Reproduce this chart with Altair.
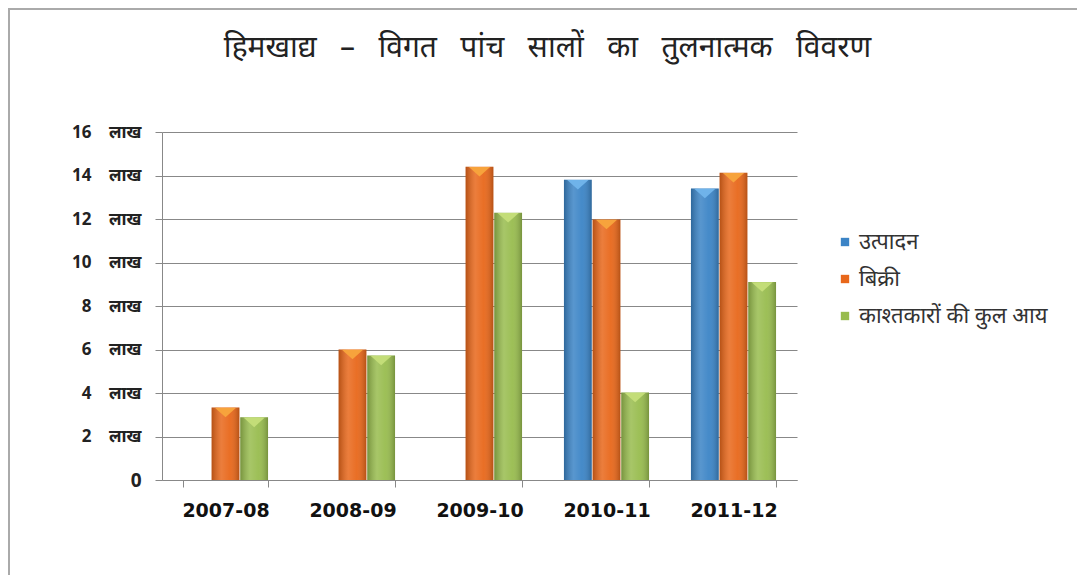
import altair as alt
import pandas as pd

years = ["2007-08", "2008-09", "2009-10", "2010-11", "2011-12"]
series = ["उत्पादन", "बिक्री", "काश्तकारों की कुल आय"]
production = [None, None, None, 13.8, 13.4]
sales = [3.33, 6.0, 14.4, 11.98, 14.13]
income = [2.88, 5.72, 12.29, 4.02, 9.1]
colors = ["#3b84c6", "#e8671a", "#98bc4e"]
caps = ["#6fb3ea", "#f7a33c", "#c3dd78"]
title_words = ["हिमखाद्य", "–", "विगत", "पांच", "सालों", "का", "तुलनात्मक", "विवरण"]

rows = []
for s, vals, cap in zip(series, [production, sales, income], caps):
    for y, v in zip(years, vals):
        rows.append({"year": y, "series": s, "value": v, "cap": cap})
df = pd.DataFrame(rows)

font = "Noto Sans"
nb = "\u00a0"

x = alt.X("year:N", sort=years, title=None,
          scale=alt.Scale(paddingInner=0.33, paddingOuter=0.165),
          axis=alt.Axis(labelFontSize=19, labelFontWeight="bold", labelColor="#111",
                        labelPadding=14, tickBand="extent", tickSize=7,
                        domainColor="#888", tickColor="#888", labelAngle=0,
                        labelFont="DejaVu Sans"))
xo = alt.XOffset("series:N", sort=series, scale=alt.Scale(domain=series, paddingInner=0.03))
y = alt.Y("value:Q", title=None,
          scale=alt.Scale(domain=[0, 16], nice=False),
          axis=alt.Axis(values=list(range(0, 17, 2)),
                        labelExpr="datum.value == 0 ? '0' : datum.value + '" + nb * 4 + "लाख'",
                        labelFontSize={"condition": {"test": "datum.value == 0", "value": 19}, "value": 17},
                        labelFontWeight="bold", labelColor="#222",
                        labelPadding=14, tickSize=7, domainColor="#888", tickColor="#888",
                        gridColor="#888", grid=True))

base = alt.Chart(df)

bars = base.mark_bar().encode(
    x=x, xOffset=xo, y=y,
    color=alt.Color("series:N", sort=series,
                    scale=alt.Scale(domain=series, range=colors),
                    legend=alt.Legend(title=None, orient="none", legendX=672, legendY=99,
                                      symbolType="square", symbolSize=70,
                                      labelFontSize=22, labelColor="#333",
                                      rowPadding=15, labelLimit=400, labelOffset=3)),
)

shade = base.mark_bar(
    fill=alt.Gradient(gradient="linear", x1=0, x2=1, y1=0, y2=0,
                      stops=[alt.GradientStop(color="rgba(0,0,0,0.22)", offset=0),
                             alt.GradientStop(color="rgba(255,255,255,0.15)", offset=0.35),
                             alt.GradientStop(color="rgba(255,255,255,0.05)", offset=0.65),
                             alt.GradientStop(color="rgba(0,0,0,0.22)", offset=1)])
).encode(x=x, xOffset=xo, y=y)

cap = base.mark_point(filled=True, opacity=1,
                      shape="M -1 -0.45 L 1 -0.45 L 0 0.45 Z",
                      size=450, yOffset=5).encode(
    x=x, xOffset=xo, y=y,
    fill=alt.Fill("cap:N", scale=None),
)

frame_top = alt.Chart(df).mark_rule(color="#aaa", strokeWidth=2).encode(
    x=alt.value(-154), x2=alt.value(925), y=alt.value(-123))
frame_left = alt.Chart(df).mark_rule(color="#aaa", strokeWidth=2).encode(
    x=alt.value(-153), y=alt.value(-124), y2=alt.value(452))

title_text = (nb * 3).join(title_words)

chart = alt.layer(bars, shade, cap, frame_top, frame_left).properties(
    width=635, height=348,
    padding={"left": 154, "top": 124, "right": 280, "bottom": 95},
    autosize=alt.AutoSizeParams(type="none"),
    title=alt.TitleParams(title_text,
                          fontSize=30, fontWeight="normal", color="#222",
                          anchor="middle", frame="group", dx=68, offset=0, dy=56),
).configure(font=font, view=alt.ViewConfig(stroke=None))

chart.save("out.html", embed_options={"renderer": "svg", "actions": False})
